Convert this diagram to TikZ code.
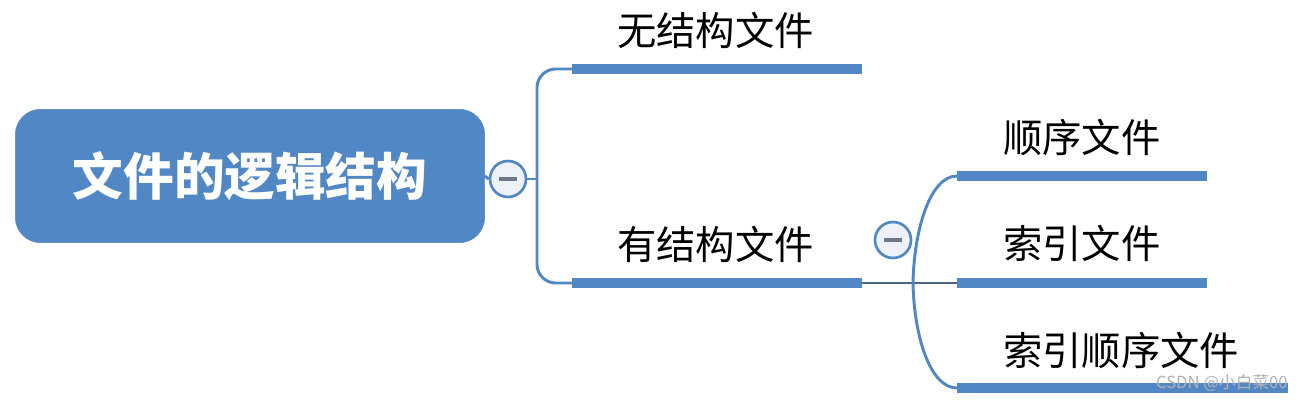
\documentclass[tikz,border=0pt]{standalone}
\usepackage{fontspec}
\setmainfont{Noto Sans CJK SC}
\definecolor{mmblue}{RGB}{82,135,198}
\definecolor{togfill}{RGB}{238,241,247}
\definecolor{minusgray}{RGB}{110,120,140}
\definecolor{thinline}{RGB}{80,100,125}
\begin{document}
\begin{tikzpicture}[x=0.75pt,y=-0.75pt,
  rootbox/.style={draw=mmblue,fill=mmblue,rounded corners=19pt,minimum width=352pt,minimum height=100pt,inner sep=0pt,text=white,font=\fontsize{38}{42}\selectfont\bfseries},
  togglebtn/.style={circle,draw=mmblue,line width=2pt,fill=togfill,minimum size=27pt,inner sep=0pt,
    path picture={\draw[minusgray,line width=2.4pt] ([xshift=-7pt]path picture bounding box.center) -- ([xshift=7pt]path picture bounding box.center);}},
  conn/.style={draw=mmblue,line width=2.2pt},
  thin/.style={draw=thinline,line width=1.4pt},
  bar/.style={draw=mmblue,line width=7pt,line cap=butt},
  leaf/.style={inner sep=0pt,anchor=west,text=black,font=\fontsize{29.5}{32}\selectfont}
]
\useasboundingbox (0,0) rectangle (1304,402);
\fill[white] (0,0) rectangle (1304,402);

% root
\node[rootbox] (root) at (250,176) {文件的逻辑结构};
\node[togglebtn] (t1) at (508,179) {};
\draw[conn] (root.east) -- (t1.west);
\coordinate (j1) at (537,179);
\draw[conn] (t1.east) -- (j1);

% first level bars
\coordinate (b1s) at (572,69);  \coordinate (b1e) at (862,69);
\coordinate (b2s) at (572,283); \coordinate (b2e) at (862,283);
\draw[conn,rounded corners=14pt] (j1) |- (b1s);
\draw[conn,rounded corners=14pt] (j1) |- (b2s);
\draw[bar] (b1s) -- (b1e);
\draw[bar] (b2s) -- (b2e);
\node[leaf] (n1) at (617,30) {无结构文件};
\node[leaf] (n2) at (617,244) {有结构文件};

% second level
\node[togglebtn] (t2) at (893,240) {};
\coordinate (j2) at (913,283);
\coordinate (c1s) at (957,176); \coordinate (c1e) at (1207,176);
\coordinate (c2s) at (957,283); \coordinate (c2e) at (1207,283);
\coordinate (c3s) at (957,388); \coordinate (c3e) at (1288,388);
\draw[thin] (b2e) -- (c2s);
\draw[conn] (j2) .. controls (914,230) and (930,176) .. (c1s);
\draw[conn] (j2) .. controls (914,336) and (930,388) .. (c3s);
\draw[bar] (c1s) -- (c1e);
\draw[bar] (c2s) -- (c2e);
\draw[bar] (c3s) -- (c3e);
\node[leaf] (m1) at (1003,137) {顺序文件};
\node[leaf] (m2) at (1003,243) {索引文件};
\node[leaf] (m3) at (1003,350) {索引顺序文件};

% watermark
\node[inner sep=0pt,anchor=east,text=gray!60,font=\fontsize{12.5}{13}\selectfont] (wm) at (1288,383) {CSDN @小白菜00};
\end{tikzpicture}
\end{document}
